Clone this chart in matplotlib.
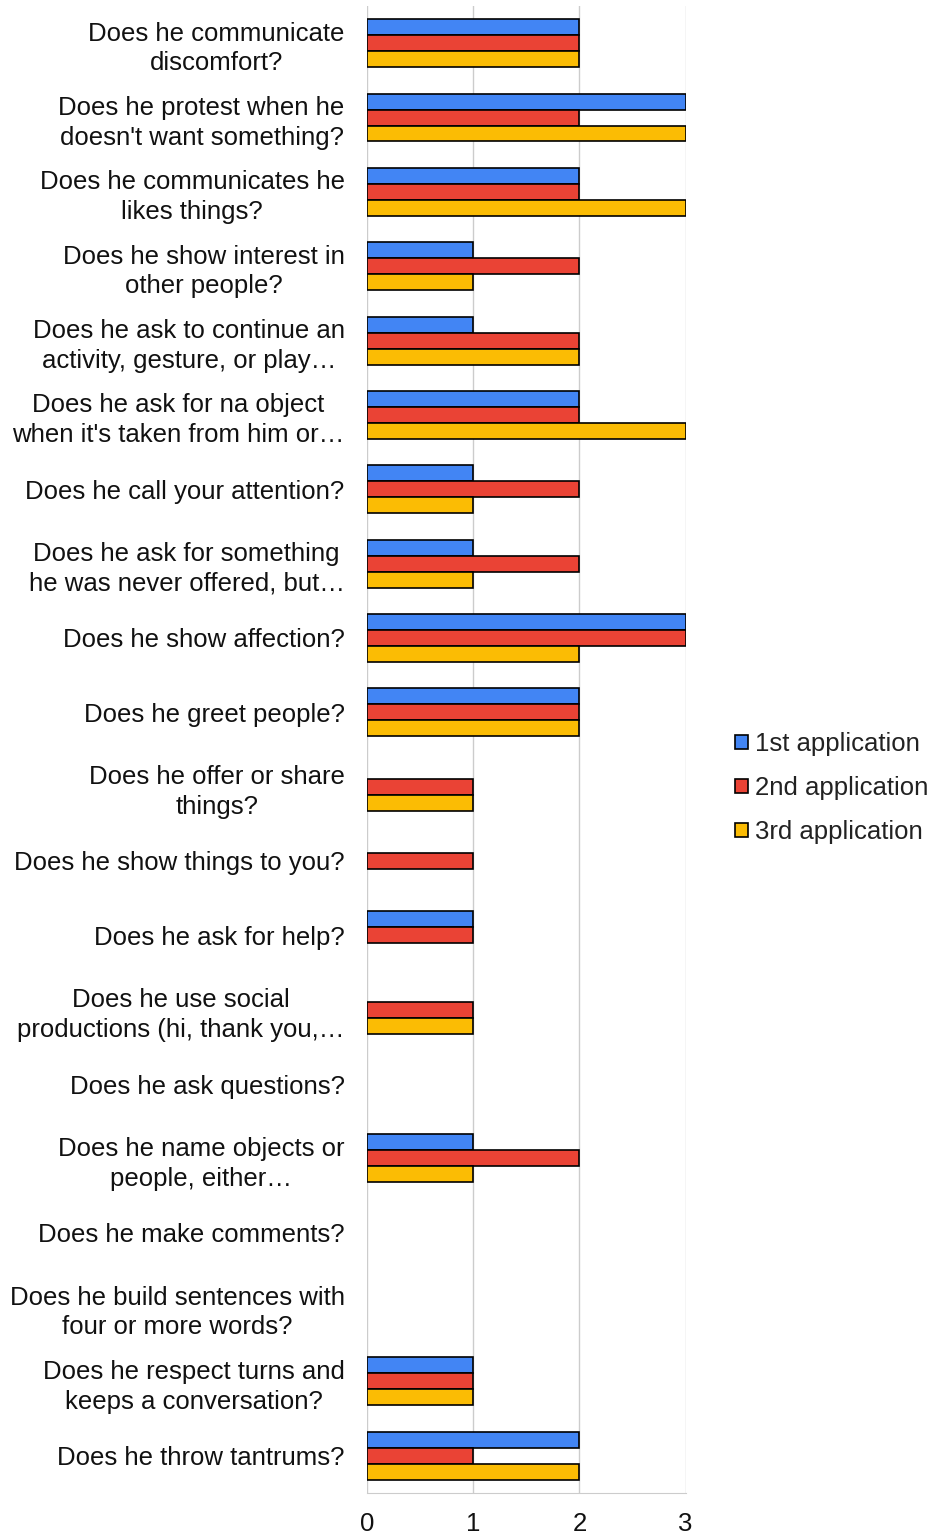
import numpy as np
import matplotlib.pyplot as plt
from matplotlib.patches import Patch

# Dati del grafico
questions = [
    "Does he communicate\ndiscomfort?",
    "Does he protest when he\ndoesn't want something?",
    "Does he communicates he\nlikes things?",
    "Does he show interest in\nother people?",
    "Does he ask to continue an\nactivity, gesture, or play…",
    "Does he ask for na object\nwhen it's taken from him or…",
    "Does he call your attention?",
    "Does he ask for something\nhe was never offered, but…",
    "Does he show affection?",
    "Does he greet people?",
    "Does he offer or share\nthings?",
    "Does he show things to you?",
    "Does he ask for help?",
    "Does he use social\nproductions (hi, thank you,…",
    "Does he ask questions?",
    "Does he name objects or\npeople, either…",
    "Does he make comments?",
    "Does he build sentences with\nfour or more words?",
    "Does he respect turns and\nkeeps a conversation?",
    "Does he throw tantrums?",
]
app1 = [2, 3, 2, 1, 1, 2, 1, 1, 3, 2, 0, 0, 1, 0, 0, 1, 0, 0, 1, 2]
app2 = [2, 2, 2, 2, 2, 2, 2, 2, 3, 2, 1, 1, 1, 1, 0, 2, 0, 0, 1, 1]
app3 = [2, 3, 3, 1, 2, 3, 1, 1, 2, 2, 1, 0, 0, 1, 0, 1, 0, 0, 1, 2]
series_names = ["1st application", "2nd application", "3rd application"]
colors = ["#4285f4", "#ea4335", "#fbbc04"]

plt.rcParams['font.family'] = ['Liberation Sans', 'DejaVu Sans']

fig = plt.figure(figsize=(9.29, 15.35), dpi=100)
ax = fig.add_axes([0.395, 0.0274, 0.343, 0.9687])

y = np.arange(len(questions))
h = 0.215
for i, vals in enumerate([app1, app2, app3]):
    v = np.array(vals)
    mask = v > 0
    ax.barh(y[mask] + (i - 1) * h, v[mask], height=h, color=colors[i],
            edgecolor='black', linewidth=1.2, zorder=3)

ax.set_ylim(len(questions) - 0.5, -0.5)
ax.set_xlim(0, 3)
ax.set_xticks([0, 1, 2, 3])
ax.set_yticks(y)
ax.set_yticklabels(questions, fontsize=18.5, color='#111111',
                   multialignment='center', linespacing=1.3)
ax.tick_params(axis='y', length=0, pad=16)
ax.tick_params(axis='x', length=0, pad=14, labelsize=18.5, labelcolor='#111111')
ax.grid(axis='x', color='#cccccc', linewidth=1, zorder=0)
for s in ['top', 'right', 'left']:
    ax.spines[s].set_visible(False)
ax.spines['bottom'].set_color('#cccccc')

handles = [Patch(facecolor=c, edgecolor='black', linewidth=1.2) for c in colors]
fig.legend(handles, series_names, loc='center left', bbox_to_anchor=(0.791, 0.4865),
           frameon=False, fontsize=18.5, handlelength=0.5, handleheight=0.5,
           handletextpad=0.28, labelspacing=0.78, borderaxespad=0, borderpad=0,
           labelcolor='#222222')

fig.savefig('out.png', dpi=100)
